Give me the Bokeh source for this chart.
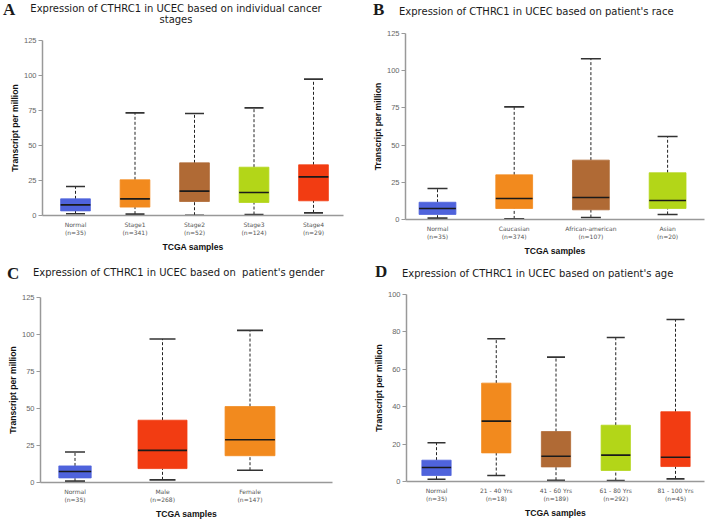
from bokeh.plotting import figure
from bokeh.layouts import column, row
from bokeh.models import FixedTicker, Range1d, ColumnDataSource, Div
from bokeh.embed import file_html
from bokeh.resources import INLINE

# ---------------- data ----------------
stage_groups = ["Normal", "Stage1", "Stage2", "Stage3", "Stage4"]
stage_n = [35, 341, 52, 124, 29]
stage_low = [1.2, 1.0, 0.2, 0.7, 1.9]
stage_q1 = [3.3, 6.0, 10.0, 9.3, 10.5]
stage_med = [7.6, 11.9, 17.4, 16.4, 27.6]
stage_q3 = [11.9, 25.5, 37.6, 34.5, 36.2]
stage_high = [20.7, 73.3, 72.9, 76.9, 97.4]

race_groups = ["Normal", "Caucasian", "African-american", "Asian"]
race_n = [35, 374, 107, 20]
race_low = [0.9, 0.4, 1.3, 3.4]
race_q1 = [3.4, 7.4, 6.5, 7.4]
race_med = [7.4, 14.1, 14.8, 12.8]
race_q3 = [11.6, 30.0, 39.9, 31.4]
race_high = [20.8, 75.7, 108.0, 55.8]

gender_groups = ["Normal", "Male", "Female"]
gender_n = [35, 268, 147]
gender_low = [0.9, 1.8, 8.3]
gender_q1 = [3.1, 9.4, 18.1]
gender_med = [7.4, 21.7, 28.9]
gender_q3 = [11.2, 42.1, 51.3]
gender_high = [20.6, 97.0, 102.8]

age_groups = ["Normal", "21 - 40 Yrs", "41 - 60 Yrs", "61 - 80 Yrs", "81 - 100 Yrs"]
age_n = [35, 18, 189, 292, 45]
age_low = [1.2, 3.2, 0.7, 0.5, 1.4]
age_q1 = [3.2, 15.3, 7.8, 5.9, 8.0]
age_med = [7.5, 32.3, 13.5, 14.1, 13.0]
age_q3 = [11.4, 52.6, 26.7, 30.1, 37.3]
age_high = [20.7, 76.3, 66.5, 77.0, 86.6]

y_ticks_125 = [0, 25, 50, 75, 100, 125]
y_ticks_100 = [0, 20, 40, 60, 80, 100]

# ---------------- styles ----------------
BLUE = "#4F63DC"
ORANGE = "#F28A1E"
BROWN = "#B06A35"
LIME = "#B3D618"
RED = "#F23C12"

TITLE_FONT = "'DejaVu Sans'"
LETTER_FONT = "'Liberation Serif'"


def header(w, h, page_x, page_y, items):
    parts = []
    for text, xr, yr, font, size, weight, anchor in items:
        parts.append(
            f'<text x="{xr - page_x:.1f}" y="{yr - page_y:.1f}" text-anchor="{anchor}" '
            f'style="font-family:{font};font-size:{size};font-weight:{weight};'
            f'font-style:normal;fill:#1a1a1a;white-space:pre">{text}</text>')
    svg = (f'<svg xmlns="http://www.w3.org/2000/svg" width="{w}" height="{h}" '
           f'style="display:block">' + "".join(parts) + "</svg>")
    return Div(text=svg, width=w, height=h, margin=(0, 0, 0, 0))


def panel(groups, ns, low, q1, med, q3, high, colors, *, page_x, page_y, w, h,
          frame, x0px, dx, box_w, cap_px, y_end, y_ticks):
    fl, ft, fr, fb = frame
    p = figure(width=w, height=h, output_backend="svg", toolbar_location=None,
               frame_align=False, margin=(0, 0, 0, 0),
               x_range=Range1d((fl - x0px) / dx, (fr - x0px) / dx),
               y_range=Range1d(0, y_end),
               min_border_left=int(round(fl - page_x)),
               min_border_right=int(round(page_x + w - fr)),
               min_border_top=int(round(ft - page_y)),
               min_border_bottom=int(round(page_y + h - fb)))
    n = len(groups)
    xs = list(range(n))
    bws = box_w if isinstance(box_w, list) else [box_w] * n
    caps = cap_px if isinstance(cap_px, list) else [cap_px] * n
    src = ColumnDataSource(dict(
        x=xs, low=low, q1=q1, med=med, q3=q3, high=high, color=colors,
        bw=bws, cap=caps,
        xl=[x - b / 2 for x, b in zip(xs, bws)],
        xr=[x + b / 2 for x, b in zip(xs, bws)],
    ))
    p.segment(x0="x", y0="q3", x1="x", y1="high", source=src,
              line_color="#222222", line_width=1, line_dash="3 2")
    p.segment(x0="x", y0="low", x1="x", y1="q1", source=src,
              line_color="#222222", line_width=1, line_dash="3 2")
    p.vbar(x="x", width="bw", bottom="q1", top="q3", source=src,
           fill_color="color", line_color="color", line_width=0.8)
    p.segment(x0="xl", y0="med", x1="xr", y1="med", source=src,
              line_color="#1a1a1a", line_width=1.6)
    p.scatter(x="x", y="high", size="cap", marker="dash", source=src,
              line_color="#333333", line_width=1.6)
    p.scatter(x="x", y="low", size="cap", marker="dash", source=src,
              line_color="#333333", line_width=1.6)

    p.grid.visible = False
    p.outline_line_color = None
    p.background_fill_color = "white"
    p.border_fill_color = "white"

    p.xaxis.ticker = FixedTicker(ticks=xs)
    p.xaxis.major_label_overrides = {i: f"{g}\n(n={c})" for i, (g, c) in enumerate(zip(groups, ns))}
    p.xaxis.major_tick_line_color = None
    p.xaxis.major_tick_out = 0
    p.xaxis.major_tick_in = 0
    p.xaxis.minor_tick_line_color = None
    p.xaxis.major_label_text_font = "DejaVu Sans"
    p.xaxis.major_label_text_font_size = "6px"
    p.xaxis.major_label_text_color = "#555555"
    p.xaxis.major_label_standoff = 5
    p.xaxis.axis_label = "TCGA samples"
    p.xaxis.axis_label_standoff = 3

    p.yaxis.ticker = FixedTicker(ticks=y_ticks, minor_ticks=[])
    p.yaxis.major_tick_out = 4
    p.yaxis.major_tick_in = 0
    p.yaxis.major_tick_line_color = "#999999"
    p.yaxis.minor_tick_line_color = None
    p.yaxis.major_label_text_font = "Liberation Sans"
    p.yaxis.major_label_text_font_size = "7.5px"
    p.yaxis.major_label_text_color = "#666666"
    p.yaxis.major_label_standoff = 2
    p.yaxis.axis_label = "Transcript per million"
    p.yaxis.axis_label_standoff = 1

    for ax in (p.xaxis, p.yaxis):
        ax.axis_line_color = "#999999"
        ax.axis_line_width = 1.5
        ax.axis_label_text_font = "Liberation Sans"
        ax.axis_label_text_font_style = "bold"
        ax.axis_label_text_font_size = "8.6px"
        ax.axis_label_text_color = "#111111"
    return p


COL_W = 354
TOP_H = 260
BOT_H = 261

# ---------------- panel A ----------------
hA = 30
fA = (42, 40, 343, 215)
pA = panel(stage_groups, stage_n, stage_low, stage_q1, stage_med, stage_q3, stage_high,
           [BLUE, ORANGE, BROWN, LIME, RED],
           page_x=0, page_y=hA, w=COL_W, h=TOP_H - hA, frame=fA, x0px=75, dx=59.5,
           box_w=0.5, cap_px=19, y_end=125, y_ticks=y_ticks_125)
dA = header(COL_W, hA, 0, 0, [
    ("A", 3, 15, LETTER_FONT, "17px", "bold", "start"),
    ("Expression of CTHRC1 in UCEC based on individual cancer", 176, 11.7, TITLE_FONT, "10px", "normal", "middle"),
    ("stages", 176, 22.7, TITLE_FONT, "10px", "normal", "middle"),
])

# ---------------- panel B ----------------
hB = 26
fB = (405, 33, 704, 219)
pB = panel(race_groups, race_n, race_low, race_q1, race_med, race_q3, race_high,
           [BLUE, ORANGE, BROWN, LIME],
           page_x=COL_W, page_y=hB, w=COL_W, h=TOP_H - hB, frame=fB, x0px=437, dx=76.7,
           box_w=0.48, cap_px=20, y_end=125, y_ticks=y_ticks_125)
dB = header(COL_W, hB, COL_W, 0, [
    ("B", 373, 15, LETTER_FONT, "17px", "bold", "start"),
    ("Expression of CTHRC1 in UCEC based on patient&#39;s race", 399, 15, TITLE_FONT, "10px", "normal", "start"),
])

# ---------------- panel C ----------------
hC = 26
fC = (40, 297, 332, 483)
pC = panel(gender_groups, gender_n, gender_low, gender_q1, gender_med, gender_q3, gender_high,
           [BLUE, RED, ORANGE],
           page_x=0, page_y=TOP_H + hC, w=COL_W, h=BOT_H - hC, frame=fC, x0px=74.5, dx=87.5,
           box_w=[0.37, 0.56, 0.57], cap_px=[20, 26, 26], y_end=125, y_ticks=y_ticks_125)
dC = header(COL_W, hC, 0, TOP_H, [
    ("C", 7, 279, LETTER_FONT, "17px", "bold", "start"),
    ("Expression of CTHRC1 in UCEC based on  patient&#39;s gender", 33, 276, TITLE_FONT, "10px", "normal", "start"),
])

# ---------------- panel D ----------------
hD = 26
fD = (406, 294, 704, 481)
pD = panel(age_groups, age_n, age_low, age_q1, age_med, age_q3, age_high,
           [BLUE, ORANGE, BROWN, LIME, RED],
           page_x=COL_W, page_y=TOP_H + hD, w=COL_W, h=BOT_H - hD, frame=fD, x0px=436, dx=59.75,
           box_w=0.49, cap_px=18, y_end=100, y_ticks=y_ticks_100)
dD = header(COL_W, hD, COL_W, TOP_H, [
    ("D", 375, 277, LETTER_FONT, "17px", "bold", "start"),
    ("Expression of CTHRC1 in UCEC based on patient&#39;s age", 402, 276.5, TITLE_FONT, "10px", "normal", "start"),
])

layout = column(
    row(column(dA, pA, spacing=0), column(dB, pB, spacing=0), spacing=0),
    row(column(dC, pC, spacing=0), column(dD, pD, spacing=0), spacing=0),
    spacing=0,
)
open("out.html", "w").write(file_html(layout, INLINE))
